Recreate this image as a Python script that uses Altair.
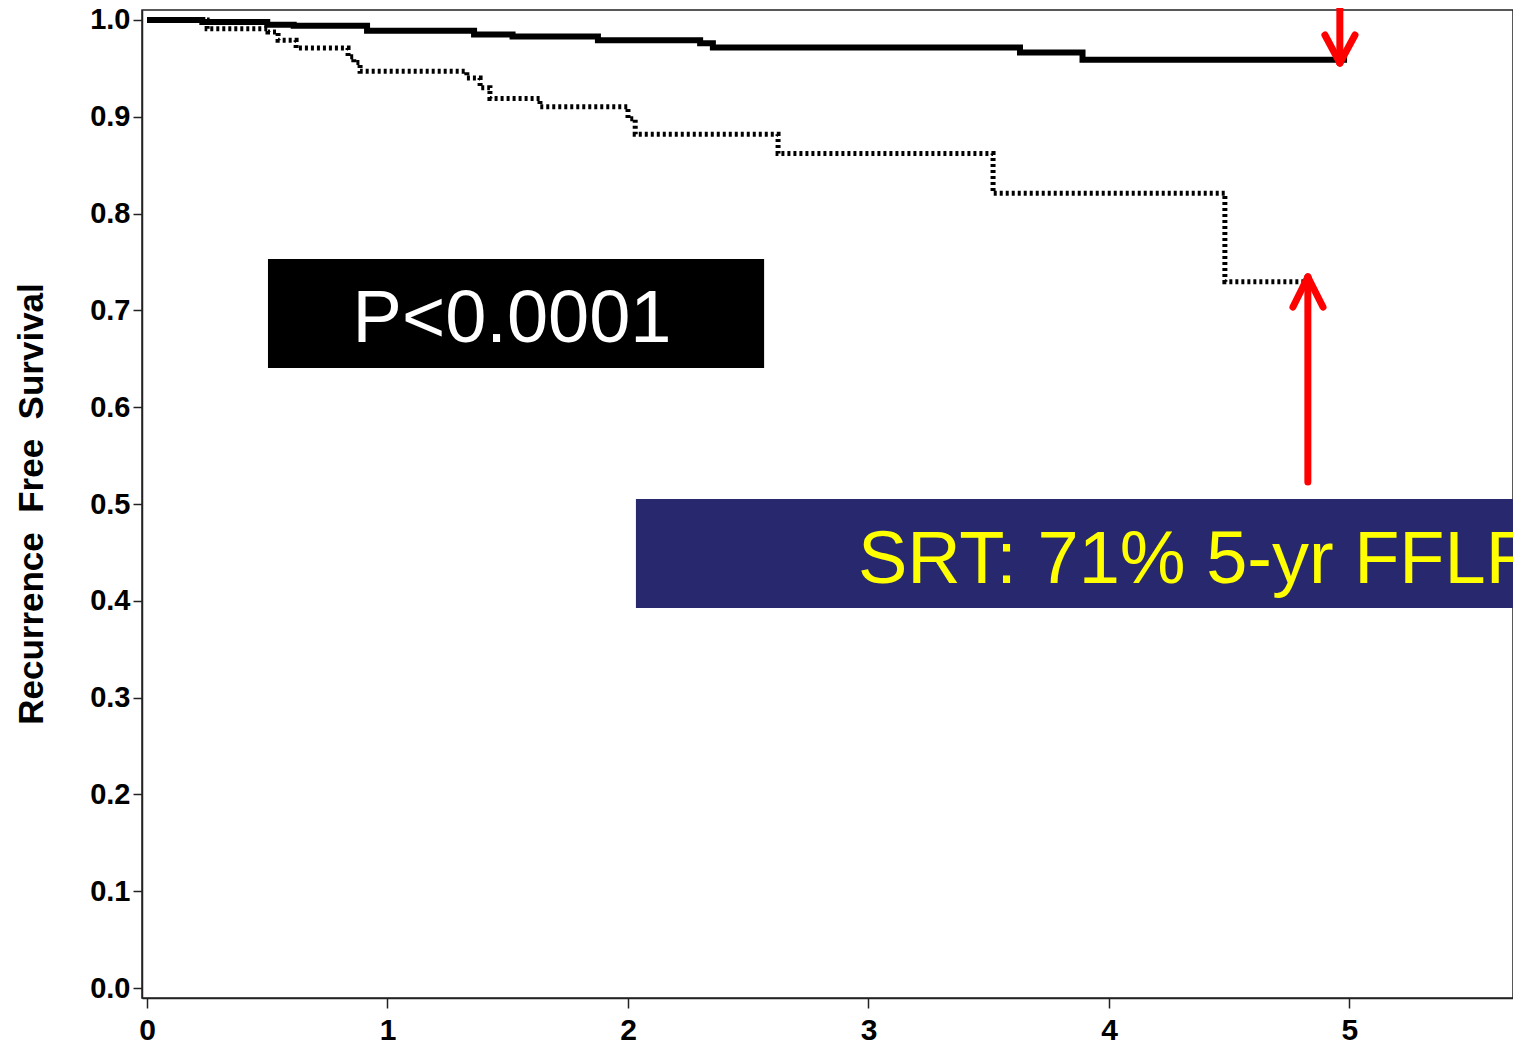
import altair as alt
import pandas as pd

# ---- data ----
solid_t = [0.0, 0.23, 0.50, 0.61, 0.915, 1.36, 1.52, 1.875, 2.30, 2.353, 3.63, 3.89, 4.99]
solid_v = [1.0, 0.998, 0.995, 0.994, 0.989, 0.985, 0.983, 0.979, 0.976, 0.9715, 0.9665, 0.959, 0.959]

dotted_t = [0.0, 0.25, 0.503, 0.545, 0.62, 0.836, 0.86, 0.886, 1.33, 1.385, 1.426, 1.634,
            2.0, 2.03, 2.624, 3.518, 4.482, 4.823]
dotted_v = [1.0, 0.991, 0.9876, 0.979, 0.971, 0.962, 0.956, 0.947, 0.940, 0.930, 0.919, 0.9104,
            0.898, 0.882, 0.862, 0.821, 0.7297, 0.7297]

x_ticks = [0, 1, 2, 3, 4, 5]
y_ticks = [0.0, 0.1, 0.2, 0.3, 0.4, 0.5, 0.6, 0.7, 0.8, 0.9, 1.0]

y_title = "Recurrence\u00a0 Free\u00a0 Survival"
p_text = "P<0.0001"
srt_text = "SRT: 71% 5-yr FFLR"

FONT = "Liberation Sans"
X_DOMAIN = [-0.0208, 5.680]
Y_DOMAIN = [-0.01033, 1.01033]

xs = alt.Scale(domain=X_DOMAIN, nice=False, zero=False)
ys = alt.Scale(domain=Y_DOMAIN, nice=False, zero=False)

df_solid = pd.DataFrame({"t": solid_t, "v": solid_v})
df_dotted = pd.DataFrame({"t": dotted_t, "v": dotted_v})

x_axis = alt.Axis(values=x_ticks, format="d", title=None, grid=False,
                  labelFont=FONT, labelFontSize=30, labelFontWeight="bold", labelColor="black",
                  labelBaseline="alphabetic", labelPadding=31, labelFlush=False,
                  tickSize=10, tickWidth=1.5, tickColor="#222",
                  domainColor="#222", domainWidth=1.5)
y_axis = alt.Axis(values=y_ticks, format=".1f", grid=False, title=y_title,
                  labelFont=FONT, labelFontSize=29, labelFontWeight="bold", labelColor="black",
                  labelPadding=3, tickSize=9, tickWidth=1.5, tickColor="#222",
                  domainColor="#222", domainWidth=1.5,
                  titleFont=FONT, titleFontSize=35, titleFontWeight="bold", titleColor="black",
                  titleAngle=270, titleX=-100, titleY=493.5, titleAlign="center",
                  titleBaseline="alphabetic")


def X(field):
    return alt.X(field, type="quantitative", scale=xs, axis=x_axis)


def Y(field):
    return alt.Y(field, type="quantitative", scale=ys, axis=y_axis)


solid = alt.Chart(df_solid).mark_line(interpolate="step-after", color="black",
                                      strokeWidth=6).encode(x=X("t"), y=Y("v"))
dotted = alt.Chart(df_dotted).mark_line(interpolate="step-after", color="black",
                                        strokeWidth=5, strokeDash=[3, 3]).encode(x=X("t"), y=Y("v"))

# annotation boxes
boxes = pd.DataFrame({
    "t": [0.503, 2.033], "t_end": [2.566, 5.80],
    "v": [0.7531, 0.5052], "v_end": [0.6405, 0.3926],
    "fill": ["black", "#28286F"],
})
box_layer = alt.Chart(boxes).mark_rect(clip=False).encode(
    x=X("t"), x2="t_end:Q", y=Y("v"), y2="v_end:Q",
    color=alt.Color("fill:N", scale=None),
)

labels = pd.DataFrame({
    "t": [1.518, 2.956], "v": [0.6674, 0.4184],
    "txt": [p_text, srt_text], "col": ["white", "#FFFF00"],
})
p_layer = alt.Chart(labels.iloc[[0]]).mark_text(font=FONT, fontSize=74, align="center",
                                                 baseline="alphabetic", clip=False).encode(
    x=X("t"), y=Y("v"), text="txt:N", color=alt.Color("col:N", scale=None),
)
srt_layer = alt.Chart(labels.iloc[[1]]).mark_text(font=FONT, fontSize=74, align="left",
                                                   baseline="alphabetic", clip=False).encode(
    x=X("t"), y=Y("v"), text="txt:N", color=alt.Color("col:N", scale=None),
)

# red arrows (shaft + two arms each)
arrows = pd.DataFrame({
    "t":     [4.960, 4.898, 5.023, 4.827, 4.765, 4.890],
    "v":     [1.04, 0.9845, 0.9845, 0.5227, 0.7035, 0.7035],
    "t_end": [4.960, 4.960, 4.960, 4.827, 4.827, 4.827],
    "v_end": [0.9556, 0.9556, 0.9556, 0.7345, 0.7345, 0.7345],
})
arrow_layer = alt.Chart(arrows).mark_rule(color="#FF0000", strokeWidth=7, strokeCap="round",
                                          clip=False).encode(
    x=X("t"), x2="t_end:Q", y=Y("v"), y2="v_end:Q",
)

chart = alt.layer(solid, box_layer, p_layer, srt_layer, dotted, arrow_layer).properties(
    width=1371, height=988,
    padding={"left": 134, "top": 2, "right": 0, "bottom": 49},
    autosize=alt.AutoSizeParams(type="none"),
    background="white",
).configure_view(stroke="#222", strokeWidth=1.5)

chart.save("out.html", embed_options={"renderer": "svg", "actions": False})
